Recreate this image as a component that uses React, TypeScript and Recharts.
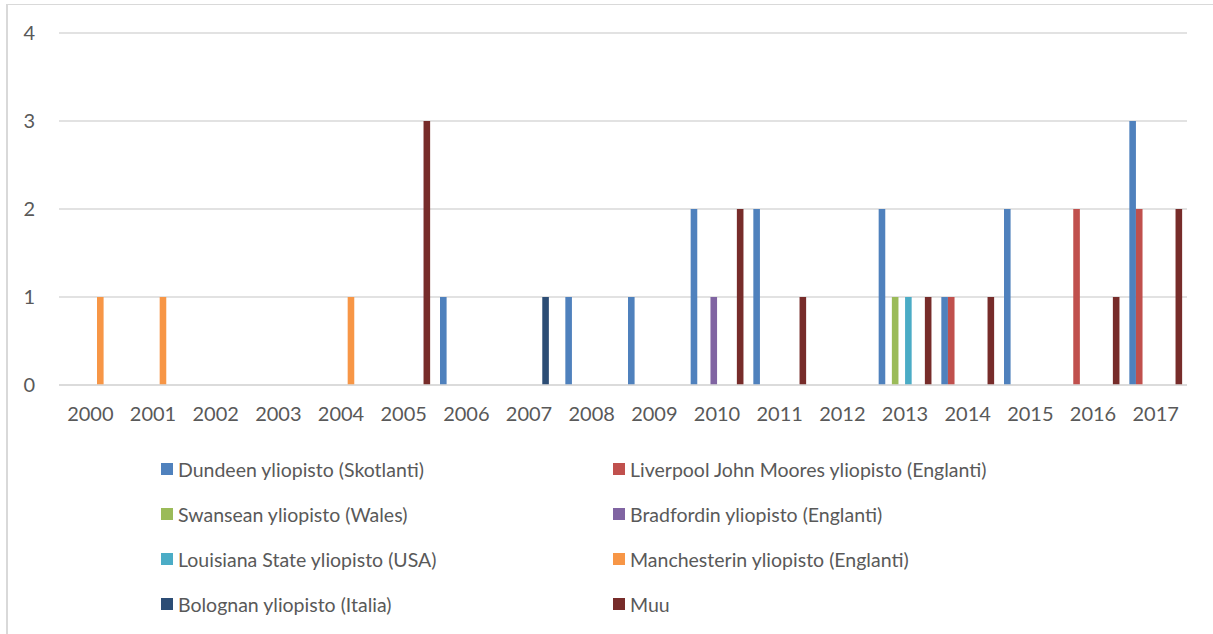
import React from 'react';
import { BarChart, Bar, XAxis, YAxis, CartesianGrid, Legend } from 'recharts';

const years = ['2000', '2001', '2002', '2003', '2004', '2005', '2006', '2007', '2008', '2009', '2010', '2011', '2012', '2013', '2014', '2015', '2016', '2017'];
const dundee = [0, 0, 0, 0, 0, 0, 1, 0, 1, 1, 2, 2, 0, 2, 1, 2, 0, 3];
const liverpool = [0, 0, 0, 0, 0, 0, 0, 0, 0, 0, 0, 0, 0, 0, 1, 0, 2, 2];
const swansea = [0, 0, 0, 0, 0, 0, 0, 0, 0, 0, 0, 0, 0, 1, 0, 0, 0, 0];
const bradford = [0, 0, 0, 0, 0, 0, 0, 0, 0, 0, 1, 0, 0, 0, 0, 0, 0, 0];
const louisiana = [0, 0, 0, 0, 0, 0, 0, 0, 0, 0, 0, 0, 0, 1, 0, 0, 0, 0];
const manchester = [1, 1, 0, 0, 1, 0, 0, 0, 0, 0, 0, 0, 0, 0, 0, 0, 0, 0];
const bologna = [0, 0, 0, 0, 0, 0, 0, 1, 0, 0, 0, 0, 0, 0, 0, 0, 0, 0];
const muu = [0, 0, 0, 0, 0, 3, 0, 0, 0, 0, 2, 1, 0, 1, 1, 0, 1, 2];
const yTicks = [0, 1, 2, 3, 4];

const seriesNames = [
  'Dundeen yliopisto (Skotlanti)',
  'Liverpool John Moores yliopisto (Englanti)',
  'Swansean yliopisto (Wales)',
  'Bradfordin yliopisto (Englanti)',
  'Louisiana State yliopisto (USA)',
  'Manchesterin yliopisto (Englanti)',
  'Bolognan yliopisto (Italia)',
  'Muu',
];
const seriesValues = [dundee, liverpool, swansea, bradford, louisiana, manchester, bologna, muu];
const seriesColors = ['#4F81BD', '#C0504D', '#9BBB59', '#8064A2', '#4BACC6', '#F79646', '#2C4D75', '#772C2A'];
const keys = seriesNames.map((_, i) => 's' + i);

const data = years.map((y, j) => {
  const row: Record<string, any> = { year: y };
  keys.forEach((k, i) => {
    row[k] = seriesValues[i][j];
  });
  return row;
});

const FONT = 'Lato, "Open Sans", sans-serif';
const TEXT = '#595959';

const renderLegend = () => {
  return (
    <div style={{ position: 'relative', width: 1213, height: 180 }}>
      {seriesNames.map((name, i) => {
        const col = i % 2;
        const row = Math.floor(i / 2);
        return (
          <div
            key={name}
            style={{
              position: 'absolute',
              left: col === 0 ? 161 : 613,
              top: 24 + row * 45 - 14,
              height: 28,
              display: 'flex',
              alignItems: 'center',
              fontFamily: FONT,
              fontSize: 19.5,
              color: TEXT,
              whiteSpace: 'nowrap',
            }}
          >
            <span style={{ display: 'inline-block', width: 12, height: 12, background: seriesColors[i], marginRight: 5 }} />
            <span>{name}</span>
          </div>
        );
      })}
    </div>
  );
};

export default function App() {
  return (
    <div style={{ position: 'absolute', left: 0, top: 0, width: 1213, height: 634, background: '#fff' }}>
      <div
        style={{
          position: 'absolute',
          left: 6,
          top: 4,
          width: 1213 - 6,
          height: 634 - 4,
          borderLeft: '2px solid #D9D9D9',
          borderTop: '1.5px solid #D9D9D9',
          boxSizing: 'border-box',
        }}
      />
      <BarChart
        width={1213}
        height={634}
        data={data}
        margin={{ top: 33, right: 26, bottom: 219, left: 19 }}
        barGap={0}
        barSize={6.6}
      >
        <CartesianGrid horizontal vertical={false} stroke="#D9D9D9" strokeWidth={1.5} />
        <XAxis
          dataKey="year"
          height={30}
          tickLine={false}
          axisLine={{ stroke: '#D9D9D9', strokeWidth: 1.5 }}
          tickSize={0}
          tickMargin={22}
          interval={0}
          tick={{ fill: TEXT, fontSize: 20, fontFamily: FONT }}
        />
        <YAxis
          width={40}
          domain={[0, 4]}
          ticks={yTicks}
          tickLine={false}
          axisLine={false}
          tickSize={0}
          tickMargin={24}
          tick={{ fill: TEXT, fontSize: 20, fontFamily: FONT }}
        />
        <Legend
          layout="horizontal"
          verticalAlign="middle"
          align="center"
          content={renderLegend}
          wrapperStyle={{ position: 'absolute', left: 0, top: 445, width: 1213, height: 180 }}
        />
        {keys.map((k, i) => (
          <Bar key={k} dataKey={k} name={seriesNames[i]} fill={seriesColors[i]} isAnimationActive={false} />
        ))}
      </BarChart>
    </div>
  );
}
